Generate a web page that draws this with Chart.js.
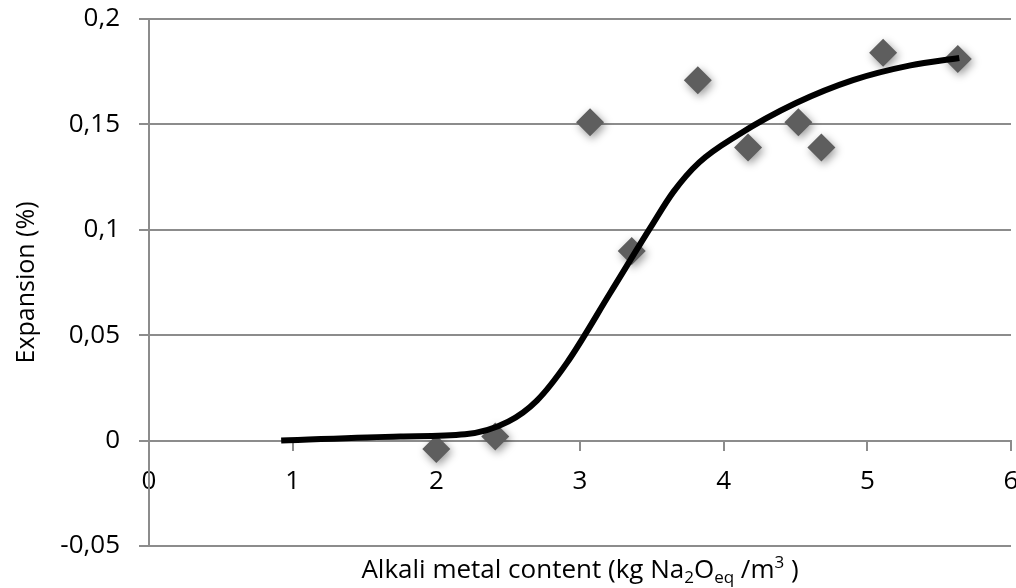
<!DOCTYPE html>
<html>
<head>
<meta charset="utf-8">
<script src="https://cdn.jsdelivr.net/npm/chart.js@4.4.0/dist/chart.umd.min.js"></script>
<style>
  html, body { margin: 0; padding: 0; background: #fff; }
  #wrap { width: 1016px; height: 588px; }
</style>
</head>
<body>
<div id="wrap"><canvas id="chart"></canvas></div>
<script>
// measured samples
const alkaliContent = [2.0, 2.41, 3.07, 3.36, 3.82, 4.17, 4.52, 4.68, 5.11, 5.63];
const expansion = [-0.004, 0.002, 0.151, 0.090, 0.171, 0.139, 0.151, 0.139, 0.184, 0.181];

// smooth trend curve
const trendX = [0.92, 1.75, 2.2, 2.5, 2.7, 2.91, 3.21, 3.49, 3.65, 3.83, 4.1, 4.5, 4.9, 5.3, 5.64];
const trendY = [0.0, 0.002, 0.003, 0.009, 0.019, 0.037, 0.070, 0.101, 0.118, 0.132, 0.145, 0.160, 0.171, 0.178, 0.1815];

const xTicks = [0, 1, 2, 3, 4, 5, 6];
const yTicks = [-0.05, 0, 0.05, 0.1, 0.15, 0.2];

const grey = '#8c8c8c';
const family = "'Open Sans', sans-serif";

function noPadding(s) {
    s.paddingLeft = 0;
    s.paddingRight = 0;
    s.paddingTop = 0;
    s.paddingBottom = 0;
}

// soft drop shadow under the diamonds
const shadowPlugin = {
    id: 'markerShadow',
    beforeDatasetDraw(chart, args) {
        if (args.index !== 1) return;
        const ctx = chart.ctx;
        ctx.save();
        ctx.shadowColor = 'rgba(0, 0, 0, 0.4)';
        ctx.shadowBlur = 8;
        ctx.shadowOffsetX = 2;
        ctx.shadowOffsetY = 3;
    },
    afterDatasetDraw(chart, args) {
        if (args.index === 1) chart.ctx.restore();
    }
};

// x title with sub/superscripts
const xTitlePlugin = {
    id: 'xTitle',
    afterDraw(chart) {
        const ctx = chart.ctx;
        const parts = [
            ['Alkali metal content (kg Na', 0],
            ['2', 1],
            ['O', 0],
            ['eq', 1],
            [' /m', 0],
            ['3', -1],
            [' )', 0]
        ];
        const big = '26px ' + family;
        const small = '17px ' + family;
        ctx.save();
        let total = 0;
        parts.forEach(p => {
            ctx.font = p[1] ? small : big;
            total += ctx.measureText(p[0]).width;
        });
        const area = chart.chartArea;
        let x = (area.left + area.right) / 2 - total / 2;
        const base = 578;
        ctx.fillStyle = '#000';
        ctx.textBaseline = 'alphabetic';
        ctx.textAlign = 'left';
        parts.forEach(p => {
            ctx.font = p[1] ? small : big;
            const dy = p[1] === 1 ? 5 : (p[1] === -1 ? -10 : 0);
            ctx.fillText(p[0], x, base + dy);
            x += ctx.measureText(p[0]).width;
        });
        ctx.restore();
    }
};

const ctx = document.getElementById('chart').getContext('2d');
new Chart(ctx, {
    type: 'scatter',
    data: {
        datasets: [
            {
                type: 'line',
                label: 'Trend',
                data: trendX.map((x, i) => ({ x: x, y: trendY[i] })),
                borderColor: '#000',
                borderWidth: 6,
                pointRadius: 0,
                cubicInterpolationMode: 'monotone',
                fill: false
            },
            {
                label: 'Expansion',
                data: alkaliContent.map((x, i) => ({ x: x, y: expansion[i] })),
                pointStyle: 'rectRot',
                pointRadius: 14,
                pointHoverRadius: 14,
                backgroundColor: '#5e5e5e',
                borderWidth: 0
            }
        ]
    },
    options: {
        responsive: true,
        maintainAspectRatio: false,
        animation: false,
        layout: { autoPadding: false, padding: { top: 19, right: 5, bottom: 42, left: 0 } },
        plugins: {
            legend: { display: false },
            tooltip: { enabled: false }
        },
        scales: {
            x: {
                type: 'linear',
                min: 0,
                max: 6,
                position: { y: 0 },
                afterBuildTicks: s => { s.ticks = xTicks.map(v => ({ value: v })); },
                afterFit: noPadding,
                grid: { drawOnChartArea: false, color: grey, lineWidth: 2, tickLength: 9 },
                border: { color: grey, width: 2 },
                ticks: {
                    color: '#000',
                    padding: 16,
                    maxRotation: 0,
                    font: { family: family, size: 26 }
                }
            },
            y: {
                type: 'linear',
                min: -0.05,
                max: 0.2,
                position: 'left',
                afterBuildTicks: s => { s.ticks = yTicks.map(v => ({ value: v })); },
                afterFit: s => { noPadding(s); s.width = 149; },
                grid: { color: grey, lineWidth: 2, tickLength: 10 },
                border: { color: grey, width: 2 },
                ticks: {
                    color: '#000',
                    padding: 19,
                    font: { family: family, size: 26 },
                    callback: v => String(+v.toFixed(2)).replace('.', ',')
                },
                title: {
                    display: true,
                    text: 'Expansion (%)',
                    color: '#000',
                    font: { family: family, size: 25 },
                    padding: { top: 12, bottom: 0 }
                }
            }
        }
    },
    plugins: [shadowPlugin, xTitlePlugin]
});
</script>
</body>
</html>
